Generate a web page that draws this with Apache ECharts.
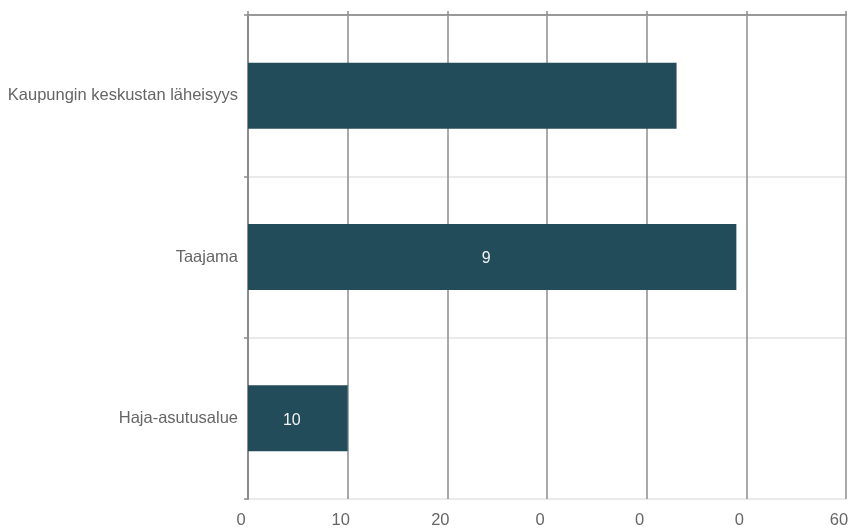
<!DOCTYPE html>
<html>
<head>
<meta charset="utf-8">
<script src="https://cdn.jsdelivr.net/npm/echarts@6/dist/echarts.min.js"></script>
<style>html,body{margin:0;padding:0;background:#fff;}#c{width:848px;height:529px;}</style>
</head>
<body>
<div id="c"></div>
<script>
const categories = ["Kaupungin keskustan läheisyys", "Taajama", "Haja-asutusalue"];
const values = [43, 49, 10];
const barLabels = ["", "9", "10"];
const xTickLabels = ["0", "10", "20", "0", "0", "0", "60"];

const chart = echarts.init(document.getElementById('c'), null, {renderer: 'canvas'});
const font = '"Liberation Sans", Arial, sans-serif';
chart.setOption({
  animation: false,
  grid: {left: 248, right: 2, top: 15, bottom: 30, containLabel: false, outerBoundsMode: 'none'},
  xAxis: [{
    type: 'value', min: 0, max: 60, interval: 10, position: 'bottom',
    axisLine: {show: false}, axisTick: {show: false},
    axisLabel: {
      fontFamily: font, fontSize: 16.5, color: '#666', margin: 13,
      padding: [0, 14, 0, 0],
      formatter: (v) => xTickLabels[Math.round(v / 10)]
    },
    splitLine: {show: true, lineStyle: {color: '#8c8c8c', width: 1.5}}
  }, {
    type: 'value', min: 0, max: 60, interval: 10, position: 'top',
    axisLine: {show: true, lineStyle: {color: '#999', width: 2}},
    axisTick: {show: true, length: 4, lineStyle: {color: '#8c8c8c', width: 1.5}},
    axisLabel: {show: false}, splitLine: {show: false}
  }],
  yAxis: {
    type: 'category', data: categories, inverse: true,
    axisLine: {show: true, lineStyle: {color: '#8c8c8c', width: 2}},
    axisTick: {show: true, length: 4, lineStyle: {color: '#8c8c8c', width: 1.5}},
    axisLabel: {fontFamily: font, fontSize: 16.5, color: '#666', margin: 10, padding: [4, 0, 0, 0]},
    splitLine: {show: true, lineStyle: {color: '#e3e3e3', width: 1.5}}
  },
  series: [{
    type: 'bar', xAxisIndex: 0,
    data: values.map((v, i) => ({value: v, label: {show: barLabels[i] !== '', formatter: barLabels[i]}})),
    barWidth: 66,
    itemStyle: {color: '#234c5a'},
    label: {position: 'inside', offset: [-6, 2], color: '#f2f2f2', fontFamily: font, fontSize: 16}
  }]
});
</script>
</body>
</html>
